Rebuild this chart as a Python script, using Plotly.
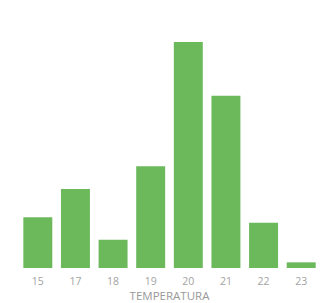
import plotly.graph_objects as go

categories = ["15", "17", "18", "19", "20", "21", "22", "23"]
values = [9, 14, 5, 18, 40, 30.5, 8, 1]

fig = go.Figure(go.Bar(
    x=categories, y=values,
    marker=dict(color="#6bb95b", line=dict(width=0)),
))
# page body has an 8px default margin, so the figure is sized to the visible area
fig.update_layout(
    width=320, height=295,
    margin=dict(l=11, r=8, t=34, b=35, pad=0, autoexpand=False),
    paper_bgcolor="white", plot_bgcolor="white",
    bargap=0.23,
    showlegend=False,
    font=dict(family="Open Sans", color="#999999", size=10),
)
fig.update_xaxes(
    type="category", showgrid=False, zeroline=False, showline=False,
    ticks="outside", ticklen=3, tickcolor="rgba(0,0,0,0)",
    tickfont=dict(size=10.5, color="#a3a3a3"),
    title=dict(text="TEMPERATURA", font=dict(size=11.5, color="#999999"), standoff=3),
    automargin=False,
)
fig.update_yaxes(
    range=[0, 40], visible=False, showgrid=False, zeroline=False,
)
fig.write_html("out.html")
